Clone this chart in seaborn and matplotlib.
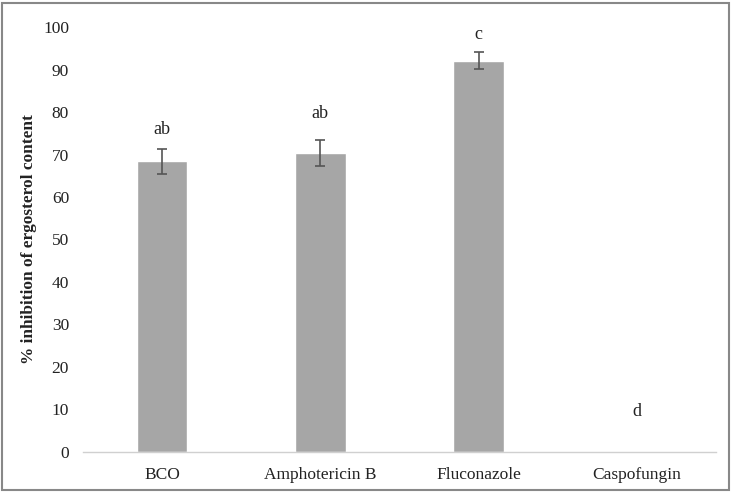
import matplotlib
matplotlib.use("Agg")
import matplotlib.pyplot as plt
import seaborn as sns
import pandas as pd
from matplotlib.patches import Rectangle

categories = ["BCO", "Amphotericin B", "Fluconazole", "Caspofungin"]
values = [68.4, 70.3, 92.1, 0.0]
errors = [3.0, 3.0, 2.0, 0.0]
letters = ["ab", "ab", "c", "d"]
letter_y = [76.0, 79.6, 98.2, 9.6]
yticks = [0, 10, 20, 30, 40, 50, 60, 70, 80, 90, 100]

sns.set_theme(style="white")
plt.rcParams["font.family"] = ["Liberation Serif", "DejaVu Serif"]

fig = plt.figure(figsize=(7.31, 4.93), dpi=100)
ax = fig.add_axes([0.1135, 0.0832, 0.866, 0.862])

df = pd.DataFrame({"cat": categories, "val": values})
sns.barplot(data=df, x="cat", y="val", color="#a6a6a6", saturation=1,
            width=0.32, ax=ax, errorbar=None)

xs = [i for i, e in enumerate(errors) if e > 0]
ax.errorbar(xs, [values[i] for i in xs], yerr=[errors[i] for i in xs],
            fmt="none", ecolor="#555555", elinewidth=1.2, capsize=3.5, capthick=1.2)

for i, (lab, yy) in enumerate(zip(letters, letter_y)):
    ax.text(i, yy, lab, ha="center", va="center", fontsize=13, color="#222222")

ax.set_ylim(0, 100)
ax.set_xlim(-0.5, 3.5)
ax.set_yticks(yticks)
ax.set_yticklabels([str(t) for t in yticks], fontsize=12.5, color="#222222")
ax.tick_params(axis="x", labelsize=12.5, colors="#222222", length=0, pad=11)
ax.tick_params(axis="y", length=0, pad=10)
ax.set_xlabel("")
ax.set_ylabel("% inhibition of ergosterol content", fontsize=12.4, fontweight="bold",
              color="#222222")
ax.yaxis.set_label_coords(-0.072, 0.50)

for s in ["top", "right", "left"]:
    ax.spines[s].set_visible(False)
ax.spines["bottom"].set_color("#d0d0d0")
ax.spines["bottom"].set_linewidth(1.0)

fig.patches.append(Rectangle((0.003, 0.006), 0.994, 0.988, transform=fig.transFigure,
                             fill=False, edgecolor="#888888", linewidth=1.5))

fig.savefig("out.png", dpi=100)
